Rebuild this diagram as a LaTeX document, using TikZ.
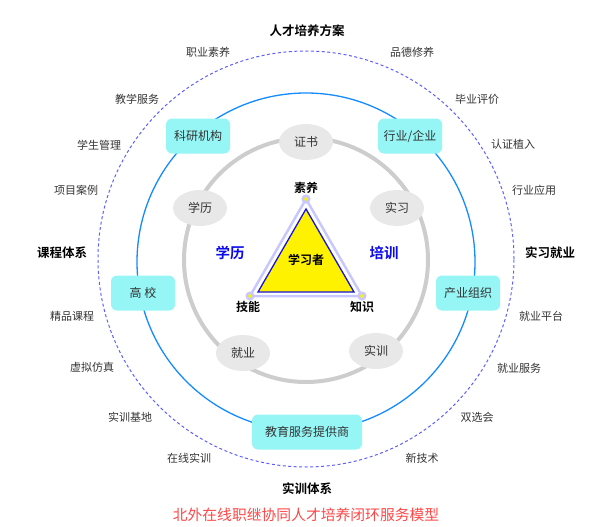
\documentclass[tikz,border=0pt]{standalone}
\usepackage{fontspec}
\setmainfont{Noto Sans CJK SC}[BoldFont={Noto Sans CJK SC Bold}]
\usepackage{xcolor}
\definecolor{ringblue}{RGB}{20,140,255}
\definecolor{dashblue}{RGB}{95,95,255}
\definecolor{ringgray}{RGB}{205,205,205}
\definecolor{boxcyan}{RGB}{150,246,246}
\definecolor{ovalgray}{RGB}{232,232,232}
\definecolor{halo}{RGB}{200,200,255}
\definecolor{triblue}{RGB}{20,20,220}
\definecolor{sideblue}{RGB}{10,10,235}
\definecolor{textgray}{RGB}{51,51,51}
\definecolor{captionred}{RGB}{255,70,70}
\usetikzlibrary{positioning,shapes.geometric}

\begin{document}
\begin{tikzpicture}[x=1pt, y=-1pt,
    orgbox/.style={rectangle, rounded corners=6pt, fill=boxcyan, minimum width=64pt,
                   minimum height=35pt, inner sep=3pt, font=\fontsize{12}{14}\selectfont, text=textgray},
    oval/.style={ellipse, fill=ovalgray, minimum width=54pt, minimum height=36pt,
                 inner sep=0pt, font=\fontsize{12}{14}\selectfont, text=textgray},
    item/.style={font=\fontsize{11}{13}\selectfont, text=textgray},
    headline/.style={font=\bfseries\fontsize{12.5}{14}\selectfont},
    corner/.style={font=\bfseries\fontsize{12}{14}\selectfont, inner sep=1pt},
    side/.style={font=\bfseries\fontsize{14.5}{16}\selectfont, text=sideblue},
    vdot/.style={circle, fill=yellow, draw=halo, line width=2.5pt, minimum size=6.5pt, inner sep=0pt}
  ]
    \useasboundingbox (0,0) rectangle (613,527);

    % Rings
    \draw[dashblue, line width=1pt, dash pattern=on 3pt off 2.5pt] (306,259) circle[radius=208pt];
    \draw[ringblue, line width=1.3pt] (306,262) circle[radius=169pt];

    \node[orgbox] (keyan) at (198,136) {科研机构};
    \node[orgbox] (hangye) at (410,136) {行业/企业};
    \node[orgbox] (gaoxiao) at (143,293) {高 校};
    \node[orgbox] (chanye) at (468,293) {产业组织};
    \node[orgbox, minimum width=110pt] (jiaoyu) at (307,432) {教育服务提供商};

    \draw[ringgray, line width=4pt] (306,260) circle[radius=122pt];

    \node[oval] (zhengshu) at (306,142) {证书};
    \node[oval] (xueli) at (200,208) {学历};
    \node[oval] (shixi) at (397,208) {实习};
    \node[oval] (jiuye) at (243,353) {就业};
    \node[oval] (shixun) at (376,351) {实训};

    % Learner triangle
    \coordinate (tA) at (306,199);
    \coordinate (tB) at (250,296);
    \coordinate (tC) at (362,296);
    \coordinate (iA) at (306,209);
    \coordinate (iB) at (258,292);
    \coordinate (iC) at (354,292);
    \draw[halo, line width=2.5pt, fill=white, line join=round] (tA) -- (tB) -- (tC) -- cycle;
    \draw[triblue, line width=1.3pt, fill=yellow] (iA) -- (iB) -- (iC) -- cycle;
    \node[vdot] (dA) at (tA) {};
    \node[vdot] (dB) at (tB) {};
    \node[vdot] (dC) at (tC) {};

    \node[corner, above=0pt of dA] (suyang) {素养};
    \node[corner, below=0pt of dB, xshift=-2pt] (jineng) {技能};
    \node[corner, below=0pt of dC] (zhishi) {知识};
    \node[corner] (learner) at (306,260) {学习者};
    \node[side] (xuelitag) at (230,253) {学历};
    \node[side] (peixun) at (384,253) {培训};

    % Outer labels
    \node[headline] (fangan) at (307,31) {人才培养方案};
    \node[headline] (kecheng) at (62,253) {课程体系};
    \node[headline] (jiuyetag) at (550,253) {实习就业};
    \node[headline] (shixuntag) at (307,489) {实训体系};

    \node[item] (zhiye) at (208,52) {职业素养};
    \node[item] (pinde) at (412,52) {品德修养};
    \node[item] (jiaoxue) at (137,99) {教学服务};
    \node[item] (xuesheng) at (99,145) {学生管理};
    \node[item] (xiangmu) at (76,190) {项目案例};
    \node[item] (biye) at (477,99) {毕业评价};
    \node[item] (renzheng) at (513,144) {认证植入};
    \node[item] (yingyong) at (534,190) {行业应用};
    \node[item] (jingpin) at (72,316) {精品课程};
    \node[item] (xuni) at (92,367) {虚拟仿真};
    \node[item] (jidi) at (130,417) {实训基地};
    \node[item] (zaixian) at (189,458) {在线实训};
    \node[item] (pingtai) at (541,316) {就业平台};
    \node[item] (fuwu) at (519,368) {就业服务};
    \node[item] (shuangxuan) at (477,417) {双选会};
    \node[item] (xinjishu) at (422,458) {新技术};

    % Caption
    \node[font=\fontsize{14.8}{16}\selectfont, text=captionred] (caption) at (306,515)
      {北外在线职继协同人才培养闭环服务模型};
\end{tikzpicture}
\end{document}
